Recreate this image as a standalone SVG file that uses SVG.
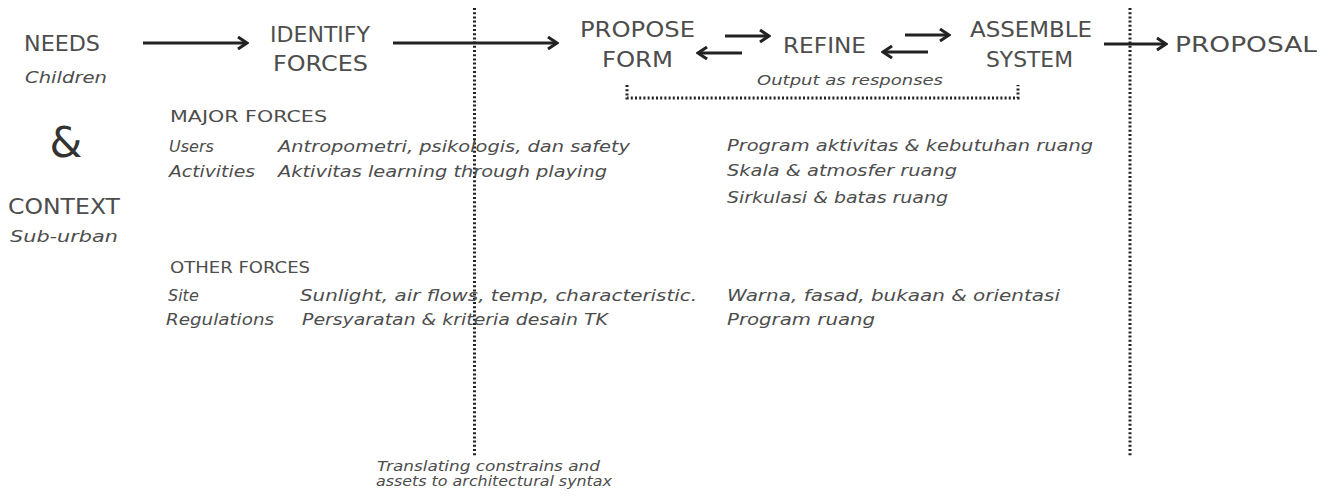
<svg xmlns="http://www.w3.org/2000/svg" width="1328" height="499" viewBox="0 0 1328 499">
<style>
text{font-family:"DejaVu Sans","Liberation Sans",sans-serif;fill:#4d4d4d}
.h{font-size:22px}
.s{font-size:16px}
.i{font-size:16px;font-style:italic}
.ism{font-size:14px;font-style:italic}
.arrow{stroke:#222;stroke-width:3;fill:none;marker-end:url(#ah)}
.dot{stroke:#222;stroke-width:3;fill:none;stroke-dasharray:2 2.2}
</style>
<defs>
<marker id="ah" viewBox="0 0 12 14" refX="10" refY="7" markerWidth="12" markerHeight="14" markerUnits="userSpaceOnUse" orient="auto">
<path d="M1,1 L10,7 L1,13" fill="none" stroke="#222" stroke-width="3" stroke-linejoin="miter"/>
</marker>
</defs>
<rect width="1328" height="499" fill="#fff"/>

<g id="connectors">
<line class="dot" x1="474.5" y1="8" x2="474.5" y2="456"/>
<line class="dot" x1="1130" y1="8" x2="1130" y2="456"/>
<path class="dot" d="M627,85 V98 H1018 V85"/>
<line class="arrow" x1="143" y1="43" x2="247" y2="43"/>
<line class="arrow" x1="393" y1="43" x2="557" y2="43"/>
<line class="arrow" x1="725" y1="36" x2="769" y2="36"/>
<line class="arrow" x1="742" y1="53" x2="698" y2="53"/>
<line class="arrow" x1="905" y1="35" x2="949" y2="35"/>
<line class="arrow" x1="928" y1="52" x2="883" y2="52"/>
<line class="arrow" x1="1104" y1="44" x2="1166" y2="44"/>
</g>

<g id="needs">
<text class="h" x="24" y="51" textLength="76" lengthAdjust="spacingAndGlyphs">NEEDS</text>
<text class="ism" style="font-size:15px" x="25" y="83" textLength="82" lengthAdjust="spacingAndGlyphs">Children</text>
</g>
<g id="amp">
<text x="66" y="157" text-anchor="middle" style="font-size:42px;fill:#333">&amp;</text>
</g>
<g id="context">
<text class="h" x="8" y="214" textLength="112" lengthAdjust="spacingAndGlyphs">CONTEXT</text>
<text class="ism" style="font-size:15px" x="10" y="242" textLength="108" lengthAdjust="spacingAndGlyphs">Sub-urban</text>
</g>
<g id="identify-forces">
<text class="h" x="270" y="42" textLength="100" lengthAdjust="spacingAndGlyphs">IDENTIFY</text>
<text class="h" x="273" y="71" textLength="95" lengthAdjust="spacingAndGlyphs">FORCES</text>
</g>
<g id="propose-form">
<text class="h" x="580" y="37" textLength="115" lengthAdjust="spacingAndGlyphs">PROPOSE</text>
<text class="h" x="602" y="67" textLength="71" lengthAdjust="spacingAndGlyphs">FORM</text>
</g>
<g id="refine">
<text class="h" x="783" y="53" textLength="83" lengthAdjust="spacingAndGlyphs">REFINE</text>
</g>
<g id="assemble-system">
<text class="h" x="970" y="37" textLength="122" lengthAdjust="spacingAndGlyphs">ASSEMBLE</text>
<text class="h" x="986" y="67" textLength="87" lengthAdjust="spacingAndGlyphs">SYSTEM</text>
</g>
<g id="proposal">
<text class="h" x="1175" y="52" textLength="142" lengthAdjust="spacingAndGlyphs">PROPOSAL</text>
</g>
<g id="output-label">
<text class="ism" x="757" y="85" textLength="186" lengthAdjust="spacingAndGlyphs">Output as responses</text>
</g>

<g id="major-forces">
<text class="s" x="170" y="122" textLength="157" lengthAdjust="spacingAndGlyphs">MAJOR FORCES</text>
<text class="i" x="169" y="152">Users</text>
<text class="i" x="278" y="152" textLength="352" lengthAdjust="spacingAndGlyphs">Antropometri, psikologis, dan safety</text>
<text class="i" x="169" y="177" textLength="86" lengthAdjust="spacingAndGlyphs">Activities</text>
<text class="i" x="278" y="177" textLength="329" lengthAdjust="spacingAndGlyphs">Aktivitas learning through playing</text>
</g>
<g id="major-responses">
<text class="i" x="727" y="151" textLength="366" lengthAdjust="spacingAndGlyphs">Program aktivitas &amp; kebutuhan ruang</text>
<text class="i" x="727" y="176" textLength="230" lengthAdjust="spacingAndGlyphs">Skala &amp; atmosfer ruang</text>
<text class="i" x="727" y="203" textLength="221" lengthAdjust="spacingAndGlyphs">Sirkulasi &amp; batas ruang</text>
</g>
<g id="other-forces">
<text class="s" x="170" y="273" textLength="140" lengthAdjust="spacingAndGlyphs">OTHER FORCES</text>
<text class="i" x="168" y="301">Site</text>
<text class="i" x="300" y="301" textLength="397" lengthAdjust="spacingAndGlyphs">Sunlight, air flows, temp, characteristic.</text>
<text class="i" x="166" y="325" textLength="108" lengthAdjust="spacingAndGlyphs">Regulations</text>
<text class="i" x="302" y="325" textLength="306" lengthAdjust="spacingAndGlyphs">Persyaratan &amp; kriteria desain TK</text>
</g>
<g id="other-responses">
<text class="i" x="727" y="301" textLength="333" lengthAdjust="spacingAndGlyphs">Warna, fasad, bukaan &amp; orientasi</text>
<text class="i" x="727" y="325" textLength="148" lengthAdjust="spacingAndGlyphs">Program ruang</text>
</g>
<g id="translating-label">
<text class="ism" x="377" y="471" textLength="223" lengthAdjust="spacingAndGlyphs">Translating constrains and</text>
<text class="ism" x="376" y="486" textLength="236" lengthAdjust="spacingAndGlyphs">assets to architectural syntax</text>
</g>
</svg>
